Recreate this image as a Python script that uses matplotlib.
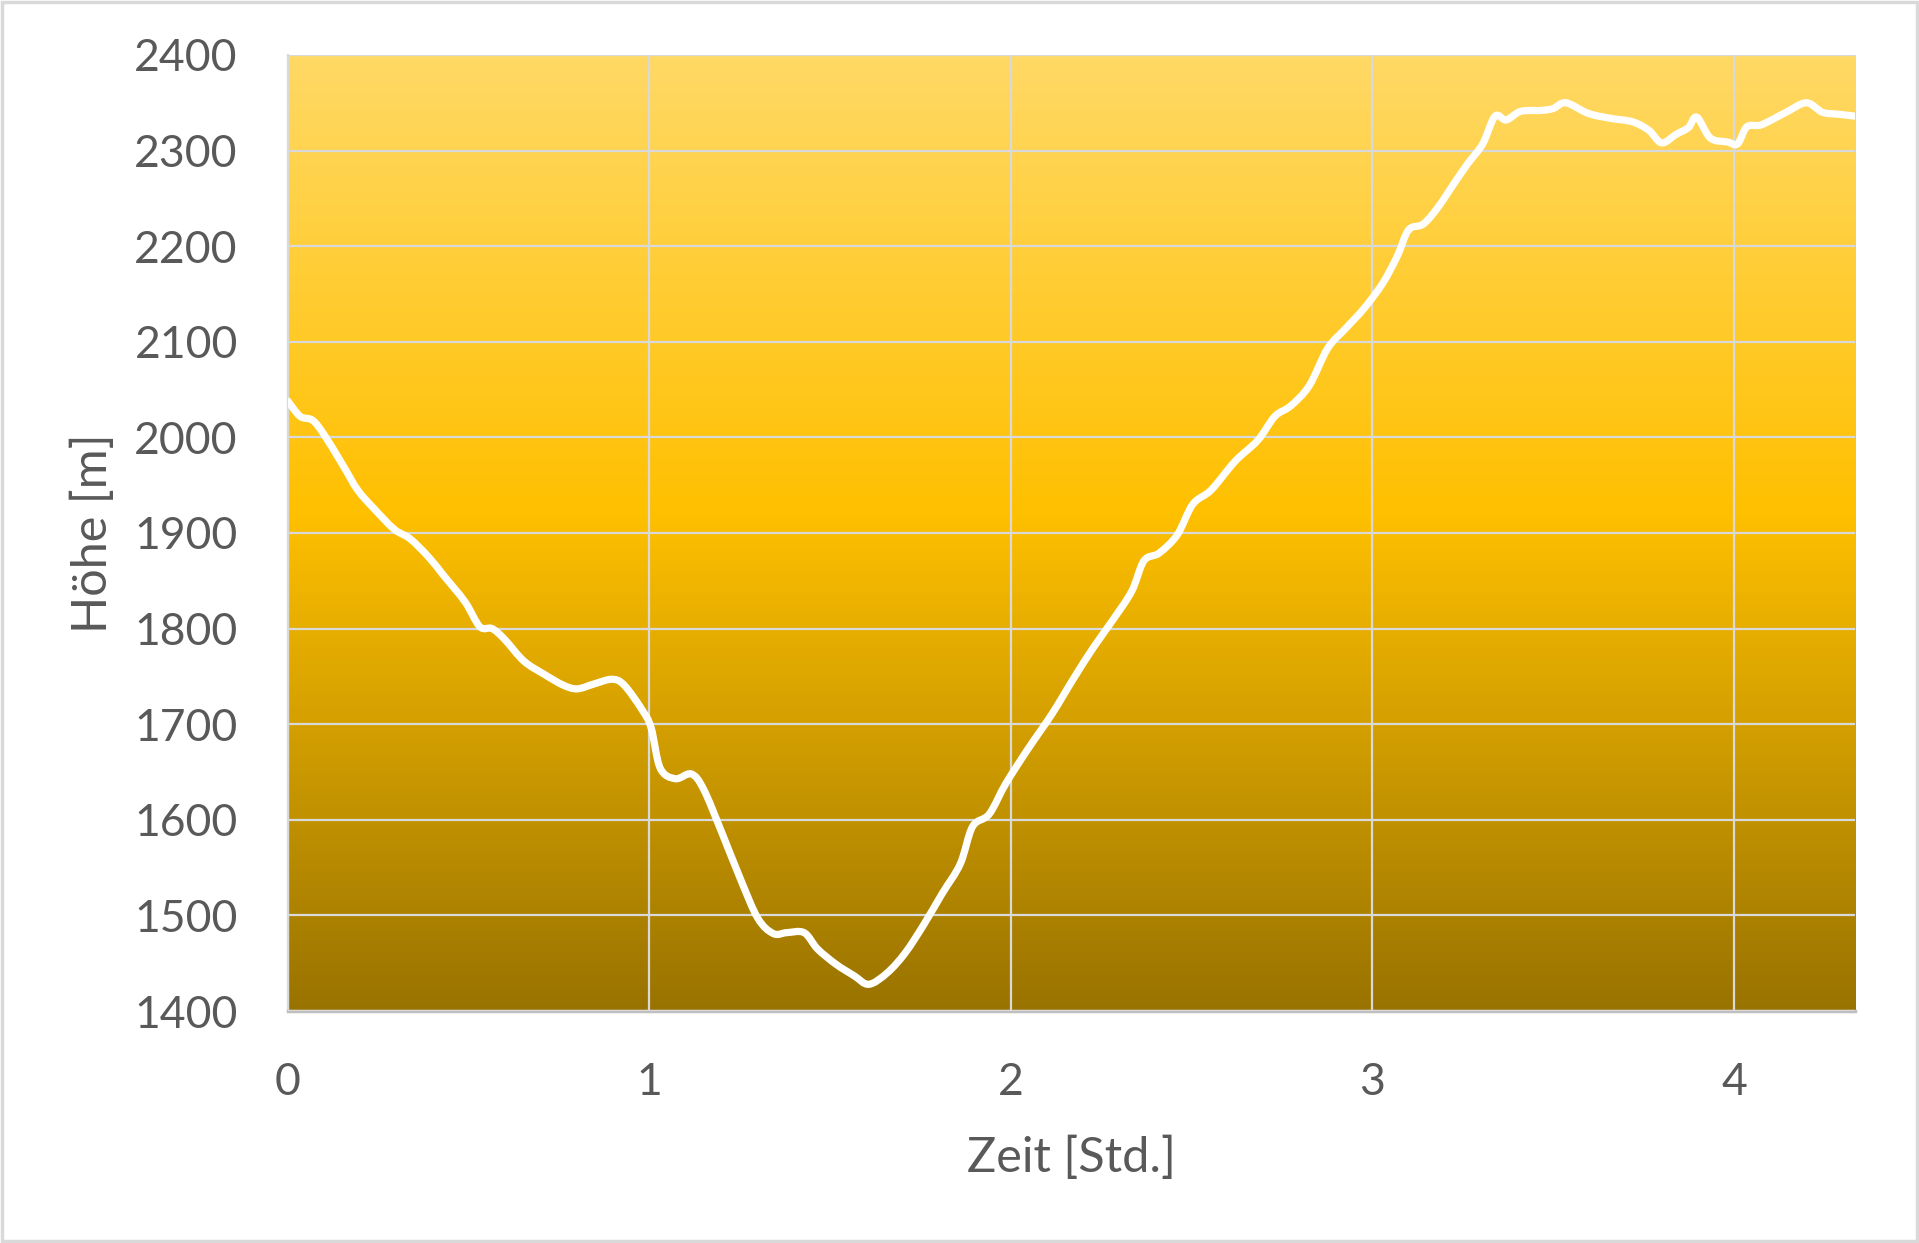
import numpy as np
import matplotlib.pyplot as plt
from matplotlib.colors import LinearSegmentedColormap
from matplotlib.patches import Rectangle, PathPatch
from matplotlib.path import Path

plt.rcParams['font.family'] = ['Lato', 'DejaVu Sans']

# Zeit [Std.] und Hoehe [m]
zeit = [0.0, 0.034, 0.068, 0.10, 0.152, 0.193, 0.237, 0.294, 0.338, 0.389,
        0.43, 0.49, 0.531, 0.565, 0.599, 0.653, 0.71, 0.761, 0.80, 0.846,
        0.896, 0.93, 0.98, 1.005, 1.03, 1.072, 1.116, 1.15, 1.20, 1.252,
        1.30, 1.343, 1.38, 1.428, 1.465, 1.516, 1.566, 1.607, 1.658, 1.708,
        1.76, 1.81, 1.86, 1.894, 1.94, 1.986, 2.047, 2.114, 2.172, 2.226,
        2.28, 2.334, 2.368, 2.41, 2.46, 2.503, 2.554, 2.62, 2.683, 2.73,
        2.774, 2.825, 2.876, 2.926, 2.977, 3.028, 3.068, 3.10, 3.14, 3.18,
        3.23, 3.265, 3.305, 3.339, 3.37, 3.41, 3.467, 3.50, 3.535, 3.596,
        3.654, 3.72, 3.765, 3.80, 3.84, 3.874, 3.897, 3.935, 3.982, 4.01,
        4.036, 4.076, 4.144, 4.2, 4.245, 4.289, 4.335]
hoehe = [2038, 2022, 2018, 2003, 1971, 1945, 1926, 1904, 1894, 1875,
         1856, 1828, 1802, 1800, 1789, 1766, 1752, 1741, 1737, 1742,
         1747, 1741, 1715, 1696, 1654, 1643, 1648, 1632, 1587, 1538,
         1497, 1481, 1482, 1482, 1465, 1449, 1437, 1428, 1440, 1461,
         1491, 1523, 1554, 1593, 1606, 1638, 1674, 1711, 1747, 1779,
         1808, 1839, 1871, 1879, 1898, 1930, 1945, 1975, 1997, 2022,
         2033, 2054, 2093, 2114, 2135, 2161, 2189, 2217, 2223, 2240,
         2268, 2287, 2307, 2336, 2332, 2341, 2342, 2344, 2350, 2339,
         2334, 2330, 2321, 2308, 2317, 2324, 2335, 2313, 2309, 2307,
         2325, 2327, 2340, 2350, 2340, 2338, 2336]

xticks = [0, 1, 2, 3, 4]
yticks = [1400, 1500, 1600, 1700, 1800, 1900, 2000, 2100, 2200, 2300, 2400]
xmax = 4.335

grau = '#595959'
fig = plt.figure(figsize=(19.19, 12.43), dpi=100)
ax = fig.add_axes([0.150, 0.1866, 0.8167, 0.7692])

# Verlaufshintergrund
cmap = LinearSegmentedColormap.from_list(
    'gold', [(0.0, '#FFD966'), (0.48, '#FFC000'), (1.0, '#997300')])
grad = np.linspace(0, 1, 256).reshape(-1, 1)
ax.imshow(grad, cmap=cmap, aspect='auto', extent=(0, xmax, 1400, 2400),
          origin='upper', zorder=0)

# geglaettete Linie wie in Excel (Catmull-Rom als Bezier)
p = np.column_stack([zeit, hoehe]).astype(float)
pp = np.vstack([p[0], p, p[-1]])
verts = [p[0]]
codes = [Path.MOVETO]
for i in range(1, len(pp) - 2):
    c1 = pp[i] + (pp[i + 1] - pp[i - 1]) / 6
    c2 = pp[i + 1] - (pp[i + 2] - pp[i]) / 6
    verts += [c1, c2, pp[i + 1]]
    codes += [Path.CURVE4] * 3
ax.add_patch(PathPatch(Path(verts, codes), fill=False, edgecolor='white',
                       lw=5.2, joinstyle='round', capstyle='round', zorder=3))

ax.set_xlim(0, xmax)
ax.set_ylim(1400, 2400)
ax.set_xticks(xticks)
ax.set_yticks(yticks)
ax.grid(True, color='#D9D9D9', lw=1.6, zorder=1)
ax.set_axisbelow(False)
for ln in ax.get_xgridlines() + ax.get_ygridlines():
    ln.set_zorder(1)
ax.tick_params(length=0, labelsize=32, labelcolor=grau)
ax.tick_params(axis='x', pad=37)
ax.tick_params(axis='y', pad=36)
for s in ['top', 'right']:
    ax.spines[s].set_visible(False)
ax.spines['left'].set_color('#D9D9D9')
ax.spines['left'].set_linewidth(1.6)
ax.spines['bottom'].set_color('#BFBFBF')
ax.spines['bottom'].set_linewidth(2.5)

ax.set_xlabel('Zeit [Std.]', fontsize=35, color=grau)
ax.set_ylabel('Höhe [m]', fontsize=35, color=grau)
ax.xaxis.set_label_coords(0.4997, -0.130)
ax.yaxis.set_label_coords(-0.110, 0.5)

fig.patches.append(Rectangle((0.001, 0.0015), 0.998, 0.997, transform=fig.transFigure,
                             fill=False, edgecolor='#D9D9D9', lw=2.5))

fig.savefig('out.png', dpi=100)
